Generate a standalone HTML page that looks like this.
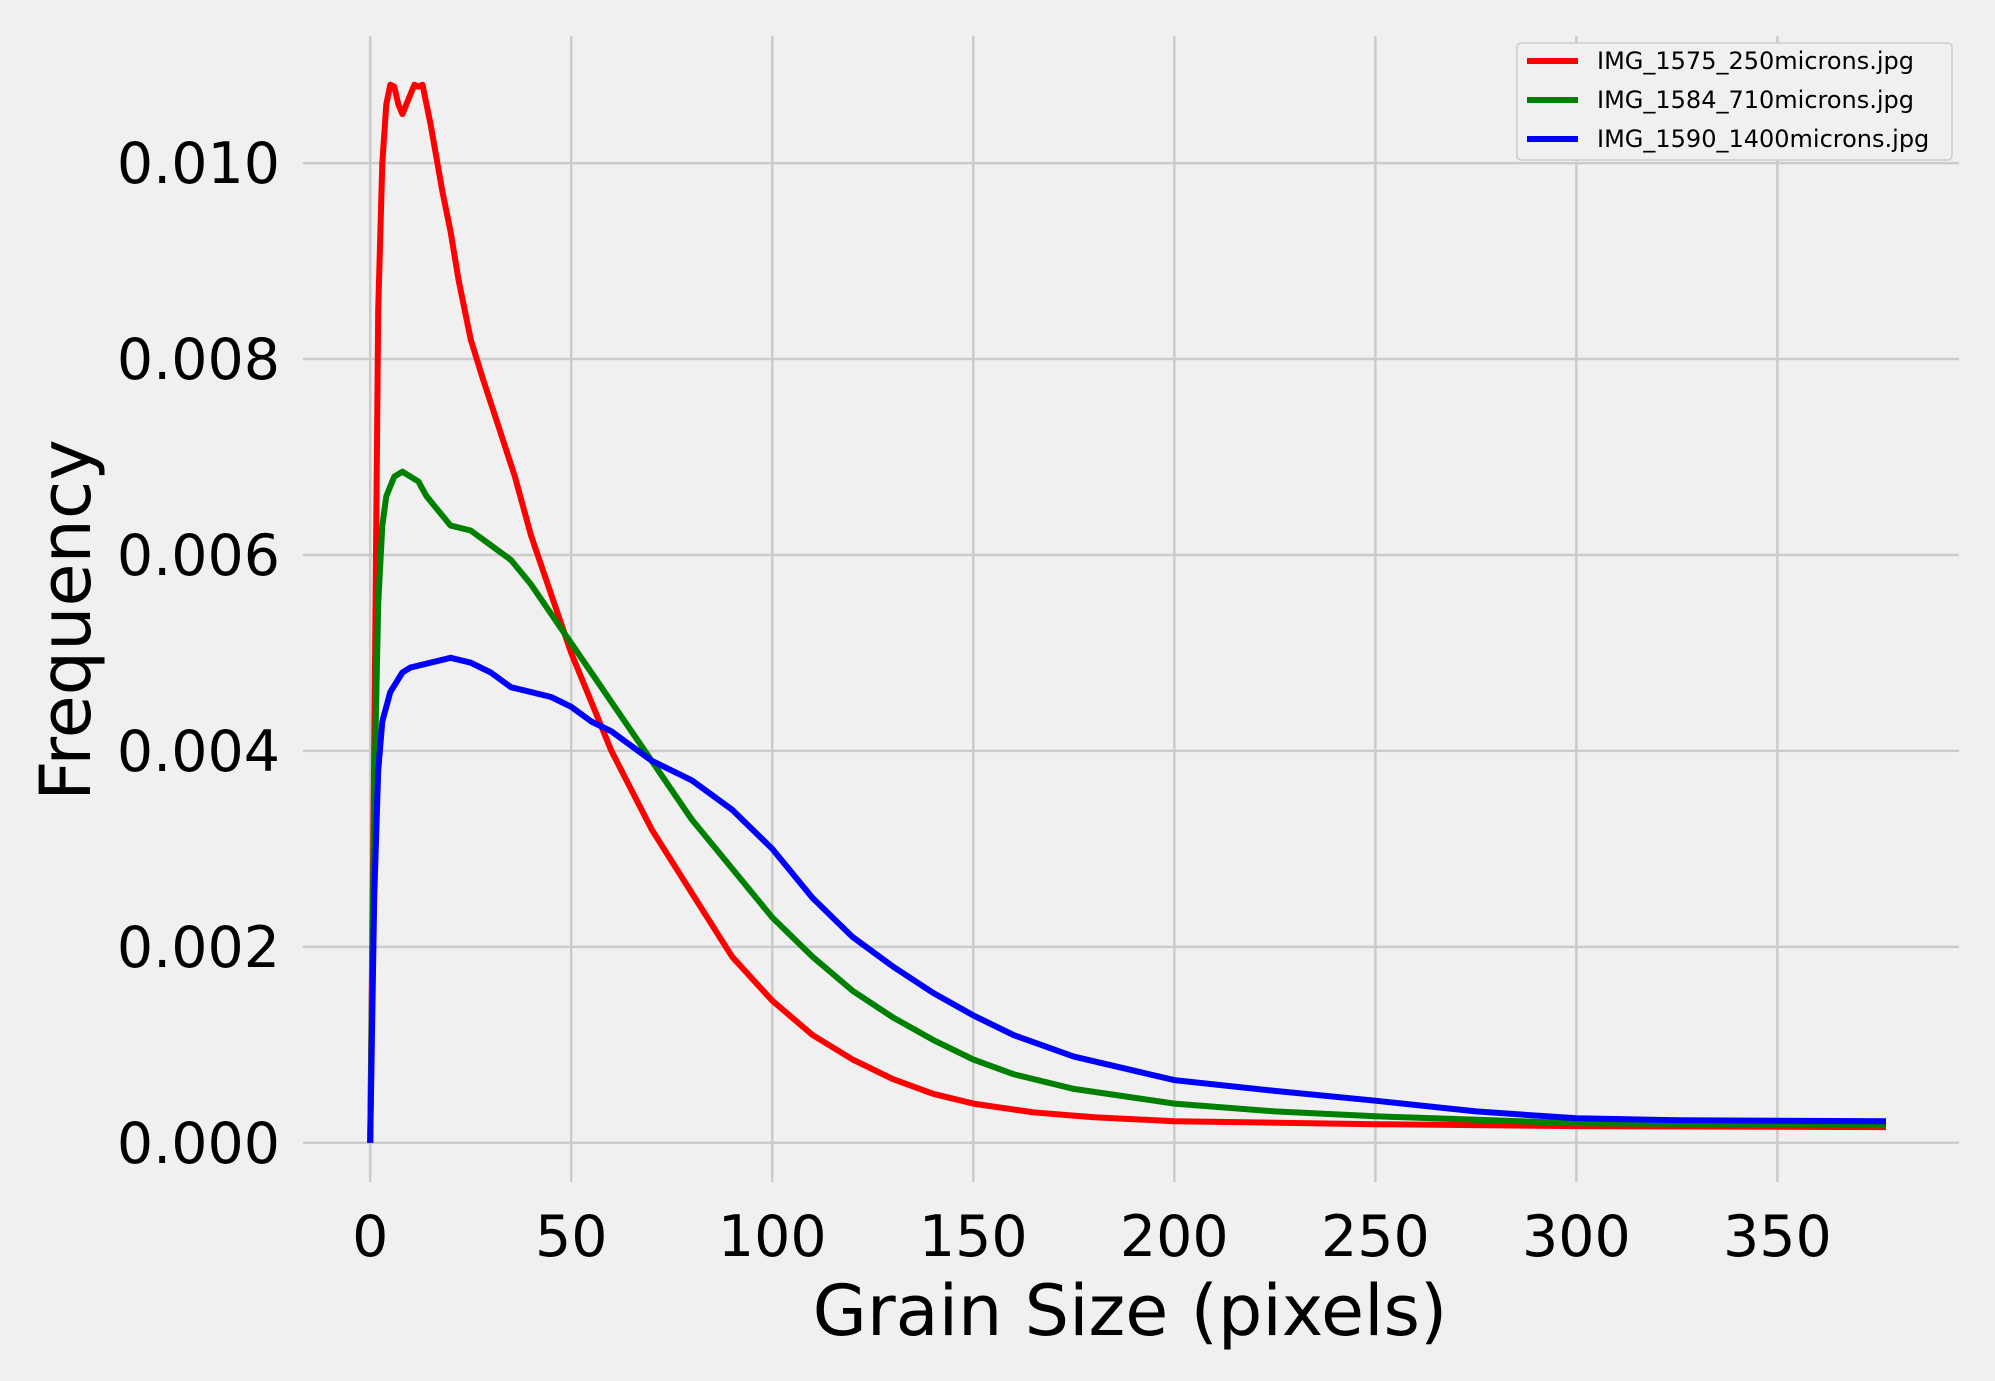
<!DOCTYPE html>
<html><head><meta charset="utf-8"><style>
html,body{margin:0;padding:0;background:#f0f0f0;}
svg{display:block;font-family:"DejaVu Sans","Liberation Sans",sans-serif;}
</style></head><body>
<svg id="chart" width="1995" height="1381" viewBox="0 0 1995 1381" xmlns="http://www.w3.org/2000/svg">
<rect width="1995" height="1381" fill="#f0f0f0"/>
<g id="grid"></g>
<g id="ticks"></g>
<g id="series"></g>
<text x="1130" y="1335" font-size="70" text-anchor="middle" fill="#000">Grain Size (pixels)</text>
<text x="90" y="620" font-size="70" text-anchor="middle" fill="#000" transform="rotate(-90 90 620)">Frequency</text>
<g id="legend"></g>
</svg>
<script>
const xTicks=[0,50,100,150,200,250,300,350];
const yTicks=[0,0.002,0.004,0.006,0.008,0.010];
const yTickLabels=["0.000","0.002","0.004","0.006","0.008","0.010"];
const seriesNames=["IMG_1575_250microns.jpg","IMG_1584_710microns.jpg","IMG_1590_1400microns.jpg"];
const seriesColors=["#ff0000","#008000","#0000ff"];
const redX=[0,1,2,3,4,5,6,7,8,9,10,11,12,13,15,18,20,22,25,28,32,36,40,45,50,55,60,65,70,80,90,100,110,120,130,140,150,165,180,200,250,300,377];
const redY=[0,0.004,0.0085,0.0100,0.0106,0.0108,0.01078,0.0106,0.0105,0.0106,0.0107,0.0108,0.01078,0.0108,0.0104,0.0097,0.0093,0.0088,0.0082,0.0078,0.0073,0.0068,0.0062,0.0056,0.0050,0.0045,0.0040,0.0036,0.0032,0.00255,0.0019,0.00145,0.0011,0.00085,0.00065,0.0005,0.0004,0.00031,0.00026,0.00022,0.00019,0.00017,0.00016];
const greenX=[0,1,2,3,4,6,8,10,12,14,16,20,25,30,35,40,45,50,55,60,70,80,90,100,110,120,130,140,150,160,175,200,225,250,300,377];
const greenY=[0,0.0035,0.0055,0.0063,0.0066,0.0068,0.00685,0.0068,0.00675,0.0066,0.0065,0.0063,0.00625,0.0061,0.00595,0.0057,0.0054,0.0051,0.0048,0.0045,0.0039,0.0033,0.0028,0.0023,0.0019,0.00155,0.00128,0.00105,0.00085,0.0007,0.00055,0.0004,0.00032,0.00027,0.0002,0.00018];
const blueX=[0,1,2,3,5,8,10,15,20,25,30,35,40,45,50,55,60,70,80,90,100,110,120,130,140,150,160,175,200,225,250,275,300,325,377];
const blueY=[0,0.0025,0.0038,0.0043,0.0046,0.0048,0.00485,0.0049,0.00495,0.0049,0.0048,0.00465,0.0046,0.00455,0.00445,0.0043,0.0042,0.0039,0.0037,0.0034,0.003,0.0025,0.0021,0.0018,0.00153,0.0013,0.0011,0.00088,0.00064,0.00053,0.00043,0.00032,0.00025,0.00023,0.00022];

const NS="http://www.w3.org/2000/svg";
const L=303,R=1959,T=36,B=1182;
function xs(v){return 370.2+v*4.0206;}
function ys(v){return 1142.8-v*97970;}
function mk(tag,attrs,parent){const e=document.createElementNS(NS,tag);for(const k in attrs)e.setAttribute(k,attrs[k]);parent.appendChild(e);return e;}
const grid=document.getElementById('grid'),ticks=document.getElementById('ticks'),ser=document.getElementById('series'),leg=document.getElementById('legend');
xTicks.forEach(t=>{
  const l=mk('line',{x1:xs(t),x2:xs(t),y1:T,y2:B,stroke:'#cbcbcb','stroke-width':2.5},grid);
  
  
  const tx=mk('text',{x:xs(t),y:1256,'font-size':57,'text-anchor':'middle',fill:'#000'},ticks);
  tx.textContent=t;
  
  
});
yTicks.forEach((t,i)=>{
  const l=mk('line',{x1:L,x2:R,y1:ys(t),y2:ys(t),stroke:'#cbcbcb','stroke-width':2.5},grid);
  
  
  const tx=mk('text',{x:280,y:ys(t)+20,'font-size':57,'text-anchor':'end',fill:'#000'},ticks);
  tx.textContent=yTickLabels[i];
  
  
});
const allX=[redX,greenX,blueX],allY=[redY,greenY,blueY],keys=['red','green','blue'];
for(let s=0;s<3;s++){
  const d=allX[s].map((x,i)=>(i?'L':'M')+xs(x).toFixed(1)+','+ys(allY[s][i]).toFixed(1)).join(' ');
  const p=mk('path',{d:d,fill:'none',stroke:seriesColors[s],'stroke-width':6,'stroke-linejoin':'round'},ser);
  
  
}
const box=mk('rect',{x:1517,y:43,width:435,height:117,rx:4,fill:'#f0f0f0',stroke:'#cccccc','stroke-width':1.5},leg);


for(let s=0;s<3;s++){
  const y=61+s*39;
  const ln=mk('line',{x1:1527,x2:1578,y1:y,y2:y,stroke:seriesColors[s],'stroke-width':6},leg);
  
  
  const tx=mk('text',{x:1597,y:y+8,'font-size':24,fill:'#000'},leg);
  tx.textContent=seriesNames[s];
  
  
}
</script>
</body></html>
